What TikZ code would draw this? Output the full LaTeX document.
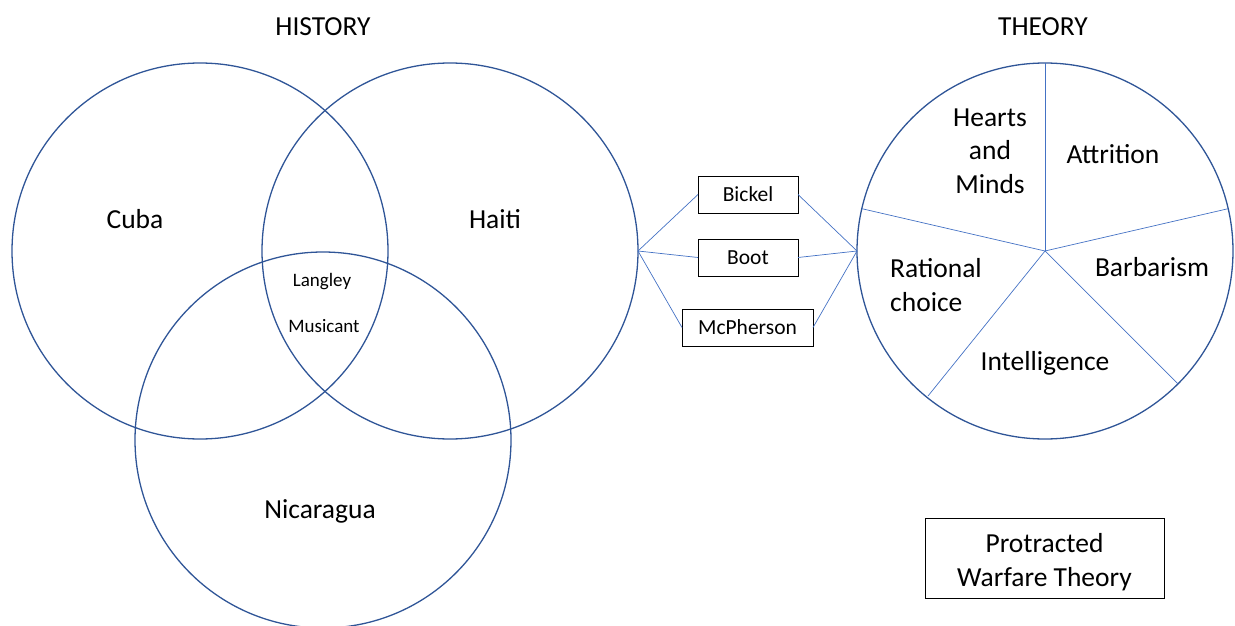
\documentclass[tikz,border=0pt]{standalone}
\usepackage{fontspec}
\setmainfont{Carlito}
\definecolor{circ}{HTML}{2F5597}
\definecolor{conn}{HTML}{4472C4}
\begin{document}
\begin{tikzpicture}[x=1pt,y=-1pt,
  bigcirc/.style={circle,draw=circ,line width=1.3pt,minimum size=376pt,inner sep=0pt,outer sep=0pt},
  big/.style={font=\fontsize{27.5}{33.5}\selectfont,inner sep=0pt},
  small/.style={font=\fontsize{19}{23}\selectfont,inner sep=0pt},
  namebox/.style={draw=black,line width=0.9pt,font=\fontsize{21.5}{26}\selectfont,minimum height=37pt,inner sep=0pt,outer sep=0pt},
  link/.style={draw=conn,line width=0.7pt},
  spoke/.style={draw=conn,line width=0.7pt}]
\useasboundingbox (0,0) rectangle (1235,626);
% titles
\node[big] (history) at (323,27) {HISTORY};
\node[big] (theory) at (1043,27) {THEORY};
% venn circles
\node[bigcirc] (cuba) at (200,251) {};
\node[bigcirc] (haiti) at (450,251) {};
\node[bigcirc] (nica) at (323,440) {};
\node[big] (cubal) at (135,219) {Cuba};
\node[big] (haitil) at (495,219) {Haiti};
\node[big] (nical) at (320,511) {Nicaragua};
\node[small] (langley) at (322,282) {Langley};
\node[small] (musicant) at (324,326) {Musicant};
% boxes
\node[namebox,minimum width=100pt] (bickel) at (748,194.5) {Bickel};
\node[namebox,minimum width=100pt] (boot) at (748,257.5) {Boot};
\node[namebox,minimum width=131pt] (mcp) at (747.5,327.5) {McPherson};
% theory circle
\node[bigcirc] (th) at (1045,251) {};
\coordinate (c) at (1045,251);
\coordinate (s1) at (1045,63);
\coordinate (s2) at (1228.1,208.7);
\coordinate (s3) at (1177.9,383.9);
\coordinate (s4) at (928,396);
\coordinate (s5) at (861.9,208.7);
\foreach \s in {s1,s2,s3,s4,s5} \draw[spoke] (c) -- (\s);
% connectors
\draw[link] (haiti.east) -- (bickel.west);
\draw[link] (haiti.east) -- (boot.west);
\draw[link] (haiti.east) -- (mcp.west);
\draw[link] (bickel.east) -- (th.west);
\draw[link] (boot.east) -- (th.west);
\draw[link] (mcp.east) -- (th.west);
% theory labels
\node[big,align=center] (hm) at (990,151) {Hearts\\and\\Minds};
\node[big] (attr) at (1113,154) {Attrition};
\node[big] (barb) at (1152,267) {Barbarism};
\node[big,align=left,anchor=west] (rat) at (890,285) {Rational\\choice};
\node[big] (intel) at (1045,363) {Intelligence};
% protracted box
\node[draw=black,line width=0.9pt,minimum width=239pt,minimum height=80pt,inner sep=0pt] (pwt) at (1044.5,558) {};
\node[big,align=center] (pwtl) at (1044.5,562) {Protracted\\Warfare Theory};
\end{tikzpicture}
\end{document}
